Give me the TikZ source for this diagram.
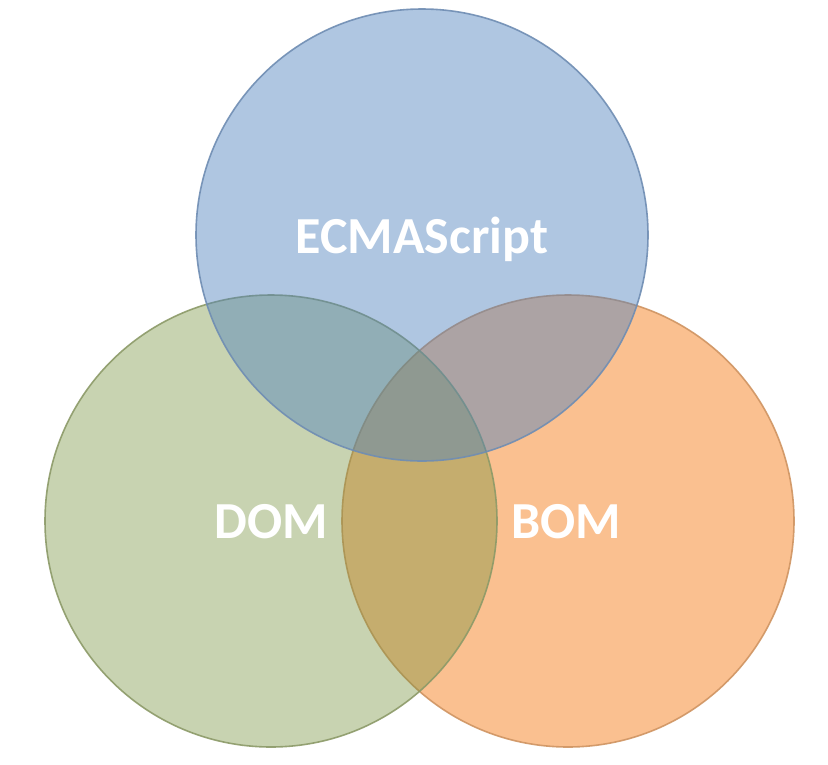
\documentclass[tikz,border=0pt]{standalone}
\usepackage{fontspec}
\setmainfont{Carlito}
\definecolor{bluebase}{HTML}{4F81BD}
\definecolor{greenbase}{HTML}{76923C}
\definecolor{orangebase}{HTML}{F79646}
\definecolor{blueline}{HTML}{6F8DB3}
\definecolor{greenline}{HTML}{8C9A68}
\definecolor{orangeline}{HTML}{CF9462}
\tikzset{
  venn/.style={circle, minimum size=452pt, inner sep=0pt, line width=1.6pt},
  label/.style={text=white, font=\bfseries\fontsize{52}{60}\selectfont, anchor=base, inner sep=0pt}
}
\begin{document}
\begin{tikzpicture}[x=1pt,y=-1pt]
\useasboundingbox[fill=white] (0,0) rectangle (828,764);
\node[venn, draw=orangeline, fill=orangebase, fill opacity=0.6, draw opacity=0.9] (bom) at (568,521) {};
\node[venn, draw=greenline, fill=greenbase, fill opacity=0.4, draw opacity=0.9] (dom) at (271,521) {};
\node[venn, draw=blueline, fill=bluebase, fill opacity=0.45, draw opacity=0.9] (ecma) at (422,235) {};
\node[label] (ecmat) at (422,253) {ECMAScript};
\node[label] (domt) at (271,538) {DOM};
\node[label] (bomt) at (566,538) {BOM};
\end{tikzpicture}
\end{document}
